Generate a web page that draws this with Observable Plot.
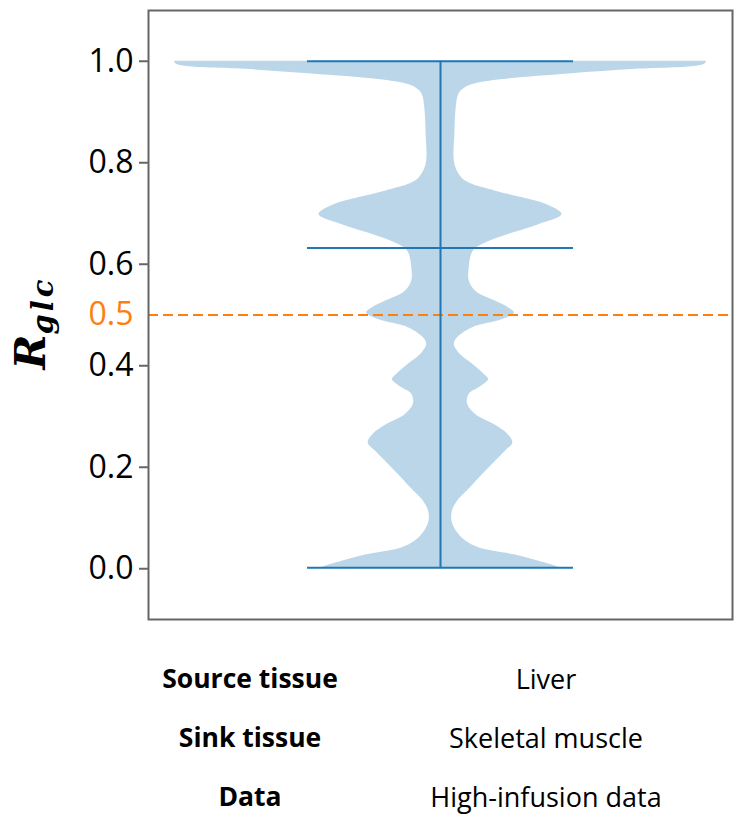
<!DOCTYPE html>
<html>
<head>
<meta charset="utf-8">
<script src="https://cdn.jsdelivr.net/npm/d3@7"></script>
<script src="https://cdn.jsdelivr.net/npm/@observablehq/plot@0.6"></script>
<style>
  html, body { margin: 0; padding: 0; background: #fff; }
  #wrap { position: relative; width: 742px; height: 814px; font-family: "Open Sans", sans-serif; }
  .cell { position: absolute; transform: translate(-50%, -50%); white-space: nowrap; font-size: 27px; color: #000; }
  .bold { font-weight: 700; font-size: 26.5px; }
</style>
</head>
<body>
<div id="wrap"></div>
<script>
// Violin profile: R_glc value and relative density (half-width, max = 1)
const rglc = [1.000, 0.995, 0.990, 0.984, 0.975, 0.964, 0.954, 0.944, 0.934, 0.908, 0.856, 0.803,
  0.783, 0.764, 0.744, 0.731, 0.718, 0.698, 0.678, 0.659, 0.642, 0.631, 0.619, 0.593, 0.567,
  0.547, 0.527, 0.514, 0.504, 0.491, 0.475, 0.455, 0.442, 0.422, 0.403, 0.383, 0.373, 0.357,
  0.344, 0.324, 0.304, 0.284, 0.265, 0.248, 0.232, 0.206, 0.179, 0.160, 0.140, 0.133, 0.114,
  0.094, 0.074, 0.055, 0.041, 0.028, 0.015, 0.005, 0.002];
const density = [1.000, 0.996, 0.962, 0.736, 0.483, 0.234, 0.121, 0.083, 0.068, 0.059, 0.054, 0.052,
  0.064, 0.094, 0.208, 0.309, 0.396, 0.457, 0.370, 0.257, 0.170, 0.132, 0.117, 0.108, 0.108,
  0.132, 0.208, 0.257, 0.278, 0.234, 0.121, 0.064, 0.052, 0.075, 0.121, 0.165, 0.181, 0.146,
  0.108, 0.102, 0.132, 0.202, 0.253, 0.272, 0.245, 0.196, 0.146, 0.113, 0.075, 0.064, 0.045,
  0.043, 0.060, 0.094, 0.146, 0.272, 0.370, 0.434, 0.445];
// Summary lines: min, median, max
const extrema = [0.002, 1.000];
const median = [0.632];
const threshold = [0.5];
const yTicks = [0.0, 0.2, 0.4, 0.6, 0.8, 1.0];
// Caption table
const rowLabels = ["Source tissue", "Sink tissue", "Data"];
const rowValues = ["Liver", "Skeletal muscle", "High-infusion data"];

const violin = rglc.map((v, i) => ({v, w: density[i]}));
const halfMax = 0.25;   // violin half-width at max density (matplotlib widths=0.5)
const capHalf = 0.125;

const blue = "#1f77b4";
const orange = "#ff7f0e";

const chart = Plot.plot({
  width: 742,
  height: 630,
  marginLeft: 148,
  marginRight: 10,
  marginTop: 10,
  marginBottom: 11,
  style: {fontFamily: "Open Sans, sans-serif", background: "#fff"},
  x: {domain: [-0.2745, 0.2745], axis: null},
  y: {domain: [-0.1, 1.1]},
  marks: [
    Plot.areaX(violin, {y: "v", x1: d => -d.w * halfMax, x2: d => d.w * halfMax,
      fill: blue, fillOpacity: 0.3, curve: "catmull-rom"}),
    Plot.ruleY(threshold, {stroke: orange, strokeWidth: 2, strokeDasharray: "10,5"}),
    Plot.ruleX([0], {y1: extrema[0], y2: extrema[1], stroke: blue, strokeWidth: 2}),
    Plot.ruleY([...extrema, ...median], {x1: -capHalf, x2: capHalf, stroke: blue, strokeWidth: 2.2}),
    Plot.axisY({ticks: yTicks, tickFormat: ".1f", tickSize: 9, tickPadding: 6, fontSize: 32,
      stroke: "#666", strokeWidth: 2, fill: "#000", label: null}),
    Plot.text(threshold, {y: d => d, x: -0.2745, text: d => d.toFixed(1), textAnchor: "end",
      dx: -15, fill: orange, fontSize: 32}),
    Plot.frame({stroke: "#666", strokeWidth: 2})
  ]
});

// y-axis title: R with subscript glc
const label = d3.select(chart).append("text")
  .attr("transform", "translate(45,323) rotate(-90)")
  .attr("text-anchor", "middle")
  .attr("font-family", "DejaVu Serif, serif")
  .attr("font-style", "italic")
  .attr("font-weight", "bold")
  .attr("fill", "#000");
label.append("tspan").attr("font-size", 42).text("R");
label.append("tspan").attr("font-size", 29).attr("dy", 8).attr("letter-spacing", 3).text("glc");

const wrap = document.getElementById("wrap");
wrap.appendChild(chart);
chart.style.position = "absolute";
chart.style.left = "0px";
chart.style.top = "0px";

const rowY = [678, 737, 796];
rowLabels.forEach((t, i) => {
  const a = document.createElement("div");
  a.className = "cell bold";
  a.style.left = "250px"; a.style.top = rowY[i] + "px";
  a.textContent = t;
  wrap.appendChild(a);
  const b = document.createElement("div");
  b.className = "cell";
  b.style.left = "546px"; b.style.top = rowY[i] + "px";
  b.textContent = rowValues[i];
  wrap.appendChild(b);
});
</script>
</body>
</html>
